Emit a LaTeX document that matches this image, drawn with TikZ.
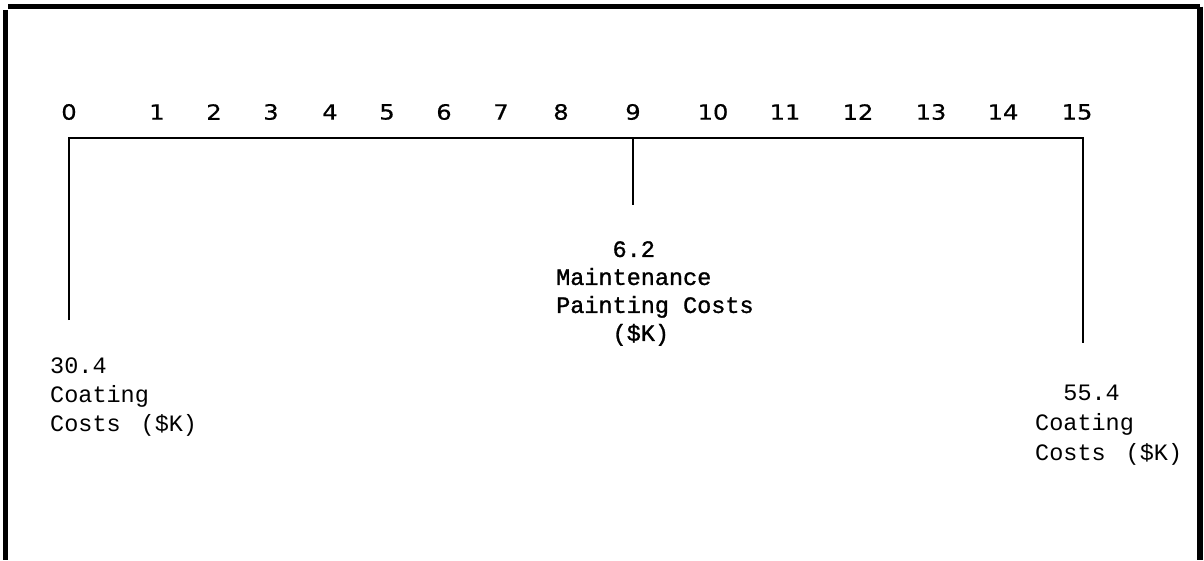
\documentclass[tikz,border=0pt]{standalone}
\usepackage{fontspec}
\newfontfamily\numfont[FakeStretch=1.15,FakeBold=0.6]{DejaVu Sans}
\newfontfamily\typefont{Liberation Mono}
\newfontfamily\boldtype[FakeBold=1.2]{Liberation Mono}
\begin{document}
\begin{tikzpicture}[x=1pt,y=-1pt,
  framestyle/.style={line width=5.5pt},
  axisline/.style={line width=1.2pt},
  ticknum/.style={font=\numfont\fontsize{21}{21}\selectfont, inner sep=0pt, anchor=center},
  costlabel/.style={font=\typefont\fontsize{23.5}{29}\selectfont, inner sep=0pt, align=left, anchor=north west},
  costlabelr/.style={font=\typefont\fontsize{23.5}{30}\selectfont, inner sep=0pt, align=left, anchor=north west},
  mainlabel/.style={font=\boldtype\fontsize{23.5}{28}\selectfont, inner sep=0pt, align=left, anchor=north west}]
\useasboundingbox (0,0) rectangle (1204,560);
% frame
\draw[framestyle] (8,6.5) -- (1200,6.5);
\draw[framestyle] (5.5,10) -- (5.5,560);
\draw[framestyle] (1200,6.5) -- (1200,560);
% tick numbers
\foreach \n/\x in {0/69,1/157,2/214,3/271,4/330,5/387,6/444,7/501,8/561,9/633,10/713,11/785,12/858,13/931,14/1003,15/1077}
  \node[ticknum] (t\n) at (\x,112) {\n};
% axis
\coordinate (a0) at (69,138);
\coordinate (a9) at (633,138);
\coordinate (a15) at (1083,138);
\coordinate (b0) at (69,320);
\coordinate (b9) at (633,205);
\coordinate (b15) at (1083,343);
\draw[axisline] (b0) -- (a0) -- (a15) -- (b15);
\draw[axisline] (a9) -- (b9);
% labels
\node[costlabel] (left) at (50,358) {30.4\\Coating\\Costs\hspace{20pt}(\$K)};
\node[costlabelr] (right) at (1035,385) {\ \ 55.4\\Coating\\Costs\hspace{20pt}(\$K)};
\node[mainlabel] (mid) at (556,241) {\ \ \ \ 6.2\\Maintenance\\Painting Costs\\\ \ \ \ (\$K)};
\end{tikzpicture}
\end{document}
